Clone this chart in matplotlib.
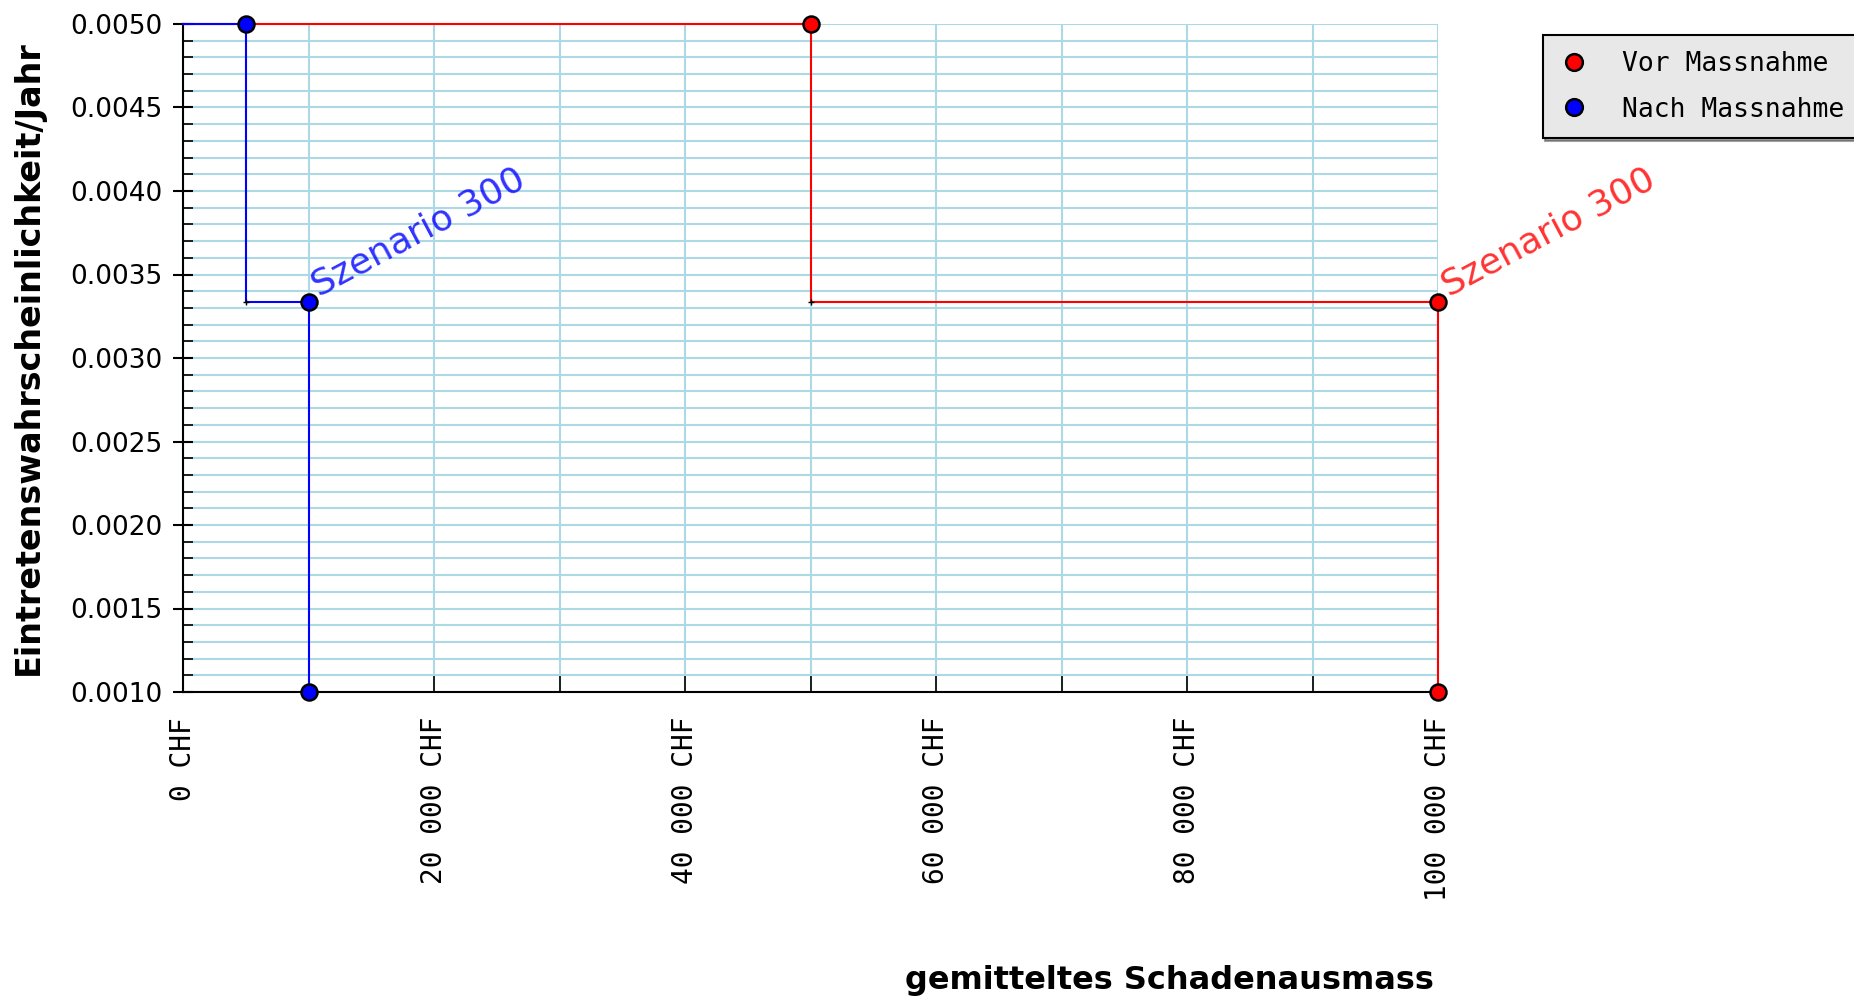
import matplotlib
matplotlib.use("Agg")
import matplotlib.pyplot as plt
from matplotlib.ticker import MultipleLocator, FuncFormatter
from matplotlib.lines import Line2D

# Step curves (Schadenausmass in CHF, Eintretenswahrscheinlichkeit pro Jahr)
vor_x = [0, 50000, 50000, 100000, 100000]
vor_y = [0.005, 0.005, 0.003333, 0.003333, 0.001]
nach_x = [0, 5000, 5000, 10000, 10000]
nach_y = [0.005, 0.005, 0.003333, 0.003333, 0.001]
punkt_idx = [1, 3, 4]     # scenario points (big markers)
ecke_idx = [2]            # step corners (small markers)
szenario_label = "Szenario 300"
szenario_idx = 3
serien = ["Vor Massnahme", "Nach Massnahme"]
farben = ["#ff0000", "#0000ff"]

fig = plt.figure(figsize=(18.54, 10), dpi=100)
ax = fig.add_axes([0.0987, 0.308, 0.677, 0.668])

ax.set_xlim(0, 100000)
ax.set_ylim(0.001, 0.005)

# grid
ax.xaxis.set_major_locator(MultipleLocator(20000))
ax.xaxis.set_minor_locator(MultipleLocator(10000))
ax.yaxis.set_major_locator(MultipleLocator(0.0005))
ax.yaxis.set_minor_locator(MultipleLocator(0.0001))
ax.grid(True, which="both", color="#add8e6", linewidth=1.5)
ax.set_axisbelow(True)

for s in ["top", "right"]:
    ax.spines[s].set_visible(False)
ax.spines["left"].set_linewidth(1.5)
ax.spines["bottom"].set_linewidth(1.5)

ax.tick_params(axis="y", which="major", direction="inout", length=14, width=1.5, labelsize=19, pad=8)
ax.tick_params(axis="y", which="minor", direction="in", length=7, width=1.2)
ax.tick_params(axis="x", which="both", direction="in", length=12, width=1.2, pad=18)

ax.yaxis.set_major_formatter(FuncFormatter(lambda v, p: f"{v:.4f}"))
ax.xaxis.set_major_formatter(
    FuncFormatter(lambda v, p: f"{int(round(v)):,}".replace(",", " ") + " CHF"))
for lbl in ax.get_xticklabels():
    lbl.set_rotation(90)
    lbl.set_family("DejaVu Sans Mono")
    lbl.set_fontsize(20)

for xs, ys, c in [(vor_x, vor_y, farben[0]), (nach_x, nach_y, farben[1])]:
    ax.plot(xs, ys, color=c, linewidth=1.5, zorder=3, clip_on=False)
    ax.plot([xs[i] for i in punkt_idx], [ys[i] for i in punkt_idx], "o",
            color=c, markersize=11.5, markeredgecolor="black", markeredgewidth=1.8,
            zorder=5, clip_on=False)
    ax.plot([xs[i] for i in ecke_idx], [ys[i] for i in ecke_idx], "+",
            color="black", markersize=5, markeredgewidth=1, zorder=4, clip_on=False)
    ax.annotate(szenario_label, (xs[szenario_idx], ys[szenario_idx]),
                xytext=(10, 0), textcoords="offset points", rotation=28,
                rotation_mode="anchor", ha="left", va="bottom",
                color=c, fontsize=26, alpha=0.8, annotation_clip=False)

ax.set_ylabel("Eintretenswahrscheinlichkeit/Jahr", fontsize=24, fontweight="bold")
ax.yaxis.set_label_coords(-0.11, 0.5)
fig.text(0.7735, 0.019, "gemitteltes Schadenausmass", ha="right", va="center",
         fontsize=23, fontweight="bold")

handles = [Line2D([], [], linestyle="none", marker="o", markersize=12,
                  markerfacecolor=c, markeredgecolor="black", markeredgewidth=1.8)
           for c in farben]
leg = fig.legend(handles, serien, loc="upper left", bbox_to_anchor=(0.832, 0.965),
                 prop={"family": "DejaVu Sans Mono", "size": 19},
                 frameon=True, fancybox=False, shadow=True,
                 facecolor="#e8e8e8", edgecolor="black", framealpha=1,
                 handletextpad=1.2, borderpad=0.6, labelspacing=0.75,
                 borderaxespad=0, handlelength=1.2)
leg.get_frame().set_linewidth(1.5)

fig.savefig("out.png", dpi=100)
